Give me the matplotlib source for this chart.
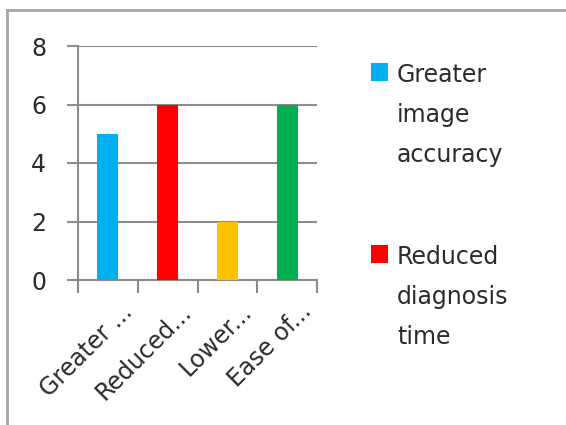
import matplotlib
matplotlib.use("Agg")
import matplotlib.pyplot as plt
from matplotlib.lines import Line2D
from matplotlib.patches import Rectangle
from matplotlib.transforms import ScaledTranslation

categories = ["Greater image accuracy", "Reduced diagnosis time",
              "Lower cost", "Ease of use"]
tick_labels = ["Greater ...", "Reduced...", "Lower...", "Ease of..."]
values = [5, 6, 2, 6]
colors = ["#00B0F0", "#FF0000", "#FFC000", "#00B050"]
legend_lines = [["Greater", "image", "accuracy"],
                ["Reduced", "diagnosis", "time"]]
y_ticks = [0, 2, 4, 6, 8]

W, H = 566, 425
plt.rcParams["font.family"] = ["DejaVu Sans"]
fig = plt.figure(figsize=(W / 100, H / 100), dpi=100)


def fx(px):
    return px / W


def fy(py):
    return 1 - py / H


grid_c = "#8c8c8c"
text_c = "#2b2b2b"
fs = 17

ax = fig.add_axes([fx(78), fy(280), fx(317) - fx(78), fy(46) - fy(280)])
x = list(range(len(values)))
ax.bar(x, values, width=0.35, color=colors, zorder=3)
ax.set_xlim(-0.5, len(values) - 0.5)
ax.set_ylim(0, 8)

ax.set_yticks(y_ticks)
ax.yaxis.grid(True, color=grid_c, linewidth=1.5, zorder=0)
ax.tick_params(axis="y", length=8, width=1.5, color=grid_c, pad=15,
               labelsize=fs, labelcolor=text_c)

# category boundaries carry the tick marks, centres carry the labels
ax.set_xticks([i - 0.5 for i in range(len(values) + 1)])
ax.set_xticklabels([])
ax.set_xticks(x, minor=True)
ax.set_xticklabels(tick_labels, minor=True, rotation=45, ha="right",
                   va="top", rotation_mode="anchor", fontsize=fs,
                   color=text_c)
ax.tick_params(axis="x", which="major", length=9, width=1.5, color=grid_c)
ax.tick_params(axis="x", which="minor", length=0, pad=14)
shift = ScaledTranslation(0.12, 0, fig.dpi_scale_trans)
for lab in ax.get_xticklabels(minor=True):
    lab.set_transform(lab.get_transform() + shift)

for s in ["top", "right"]:
    ax.spines[s].set_visible(False)
for s in ["left", "bottom"]:
    ax.spines[s].set_color(grid_c)
    ax.spines[s].set_linewidth(1.5)
ax.set_axisbelow(True)

# legend (only the entries that fit in the chart area)
entry_tops = [63, 245]
for i, lines in enumerate(legend_lines):
    top = entry_tops[i]
    fig.patches.append(Rectangle((fx(371), fy(top + 18)), fx(17), fy(0) - fy(18),
                                 transform=fig.transFigure,
                                 facecolor=colors[i], edgecolor="none"))
    base = top + 19
    for j, t in enumerate(lines):
        fig.text(fx(397), fy(base + 40 * j), t, fontsize=fs, color=text_c,
                 ha="left", va="baseline")

# chart area border
border_c = "#a6a6a6"
fig.add_artist(Line2D([fx(7), fx(7)], [fy(10), 0], color=border_c,
                      linewidth=2, transform=fig.transFigure))
fig.add_artist(Line2D([fx(7), 1], [fy(10), fy(10)], color=border_c,
                      linewidth=2, transform=fig.transFigure))

fig.savefig("out.png", dpi=100)
